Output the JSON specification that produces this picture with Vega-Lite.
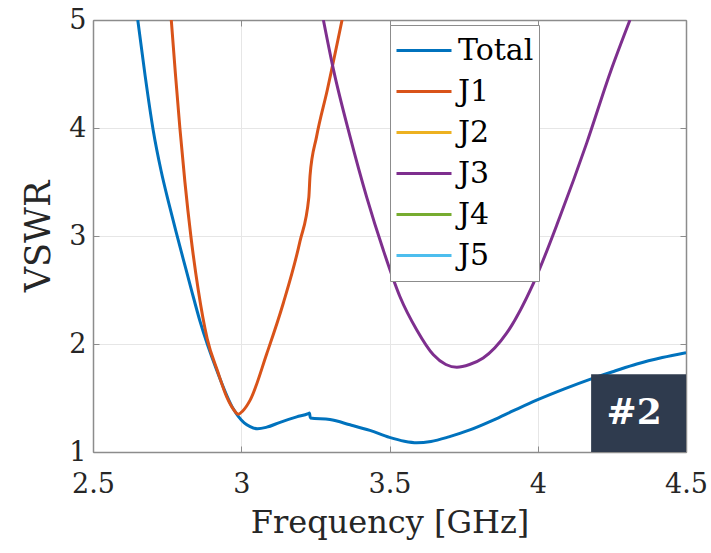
{
  "$schema": "https://vega.github.io/schema/vega-lite/v6.json",
  "autosize": {"type": "none"},
  "padding": {"left": 93, "top": 20, "right": 25, "bottom": 101},
  "width": 593,
  "height": 432,
  "background": "white",
  "config": {
    "view": {"stroke": null},
    "font": "DejaVu Serif",
    "axis": {
      "labelFont": "DejaVu Serif",
      "titleFont": "DejaVu Serif",
      "labelColor": "#262626",
      "titleColor": "#262626",
      "titleFontWeight": "normal",
      "domainColor": "#8c8c8c",
      "tickColor": "#8c8c8c",
      "gridColor": "#e6e6e6",
      "domainWidth": 1.5
    },
    "legend": {"labelFont": "DejaVu Serif"},
    "text": {"font": "DejaVu Serif"}
  },
  "datasets": {
    "curves": [
      {"f": 2.651, "v": 5.00, "s": "Total"},
      {"f": 2.676, "v": 4.48, "s": "Total"},
      {"f": 2.703, "v": 3.98, "s": "Total"},
      {"f": 2.730, "v": 3.60, "s": "Total"},
      {"f": 2.756, "v": 3.30, "s": "Total"},
      {"f": 2.780, "v": 3.04, "s": "Total"},
      {"f": 2.805, "v": 2.78, "s": "Total"},
      {"f": 2.833, "v": 2.49, "s": "Total"},
      {"f": 2.861, "v": 2.21, "s": "Total"},
      {"f": 2.917, "v": 1.76, "s": "Total"},
      {"f": 2.973, "v": 1.40, "s": "Total"},
      {"f": 2.990, "v": 1.33, "s": "Total"},
      {"f": 3.010, "v": 1.27, "s": "Total"},
      {"f": 3.030, "v": 1.235, "s": "Total"},
      {"f": 3.055, "v": 1.215, "s": "Total"},
      {"f": 3.086, "v": 1.230, "s": "Total"},
      {"f": 3.131, "v": 1.275, "s": "Total"},
      {"f": 3.187, "v": 1.325, "s": "Total"},
      {"f": 3.226, "v": 1.355, "s": "Total"},
      {"f": 3.230, "v": 1.360, "s": "Total"},
      {"f": 3.233, "v": 1.315, "s": "Total"},
      {"f": 3.299, "v": 1.300, "s": "Total"},
      {"f": 3.367, "v": 1.252, "s": "Total"},
      {"f": 3.434, "v": 1.200, "s": "Total"},
      {"f": 3.500, "v": 1.135, "s": "Total"},
      {"f": 3.550, "v": 1.100, "s": "Total"},
      {"f": 3.592, "v": 1.086, "s": "Total"},
      {"f": 3.640, "v": 1.098, "s": "Total"},
      {"f": 3.700, "v": 1.140, "s": "Total"},
      {"f": 3.771, "v": 1.204, "s": "Total"},
      {"f": 3.850, "v": 1.295, "s": "Total"},
      {"f": 3.920, "v": 1.385, "s": "Total"},
      {"f": 3.996, "v": 1.480, "s": "Total"},
      {"f": 4.090, "v": 1.585, "s": "Total"},
      {"f": 4.176, "v": 1.673, "s": "Total"},
      {"f": 4.260, "v": 1.750, "s": "Total"},
      {"f": 4.334, "v": 1.815, "s": "Total"},
      {"f": 4.420, "v": 1.875, "s": "Total"},
      {"f": 4.500, "v": 1.920, "s": "Total"},
      {"f": 2.764, "v": 5.00, "s": "J1"},
      {"f": 2.778, "v": 4.50, "s": "J1"},
      {"f": 2.793, "v": 4.00, "s": "J1"},
      {"f": 2.810, "v": 3.50, "s": "J1"},
      {"f": 2.830, "v": 3.00, "s": "J1"},
      {"f": 2.855, "v": 2.50, "s": "J1"},
      {"f": 2.885, "v": 2.05, "s": "J1"},
      {"f": 2.920, "v": 1.75, "s": "J1"},
      {"f": 2.951, "v": 1.51, "s": "J1"},
      {"f": 2.975, "v": 1.39, "s": "J1"},
      {"f": 2.990, "v": 1.35, "s": "J1"},
      {"f": 3.005, "v": 1.38, "s": "J1"},
      {"f": 3.030, "v": 1.48, "s": "J1"},
      {"f": 3.086, "v": 1.91, "s": "J1"},
      {"f": 3.142, "v": 2.38, "s": "J1"},
      {"f": 3.198, "v": 2.95, "s": "J1"},
      {"f": 3.228, "v": 3.36, "s": "J1"},
      {"f": 3.232, "v": 3.56, "s": "J1"},
      {"f": 3.254, "v": 3.92, "s": "J1"},
      {"f": 3.290, "v": 4.35, "s": "J1"},
      {"f": 3.340, "v": 5.00, "s": "J1"},
      {"f": 3.277, "v": 5.00, "s": "J3"},
      {"f": 3.311, "v": 4.54, "s": "J3"},
      {"f": 3.367, "v": 3.92, "s": "J3"},
      {"f": 3.423, "v": 3.36, "s": "J3"},
      {"f": 3.479, "v": 2.87, "s": "J3"},
      {"f": 3.535, "v": 2.44, "s": "J3"},
      {"f": 3.592, "v": 2.13, "s": "J3"},
      {"f": 3.648, "v": 1.90, "s": "J3"},
      {"f": 3.690, "v": 1.81, "s": "J3"},
      {"f": 3.727, "v": 1.785, "s": "J3"},
      {"f": 3.770, "v": 1.81, "s": "J3"},
      {"f": 3.816, "v": 1.87, "s": "J3"},
      {"f": 3.895, "v": 2.10, "s": "J3"},
      {"f": 3.985, "v": 2.56, "s": "J3"},
      {"f": 4.075, "v": 3.18, "s": "J3"},
      {"f": 4.165, "v": 3.86, "s": "J3"},
      {"f": 4.244, "v": 4.51, "s": "J3"},
      {"f": 4.311, "v": 5.00, "s": "J3"}
    ],
    "badge": [
      {"x1": 4.18, "x2": 4.5, "y1": 1.0, "y2": 1.72, "xc": 4.325, "yc": 1.36, "label": "#2"}
    ]
  },
  "resolve": {"axis": {"x": "independent", "y": "independent"}},
  "layer": [
    {
      "data": {"name": "curves"},
      "mark": {"type": "line", "strokeWidth": 3, "clip": true, "interpolate": "monotone"},
      "encoding": {
        "x": {
          "field": "f", "type": "quantitative",
          "scale": {"domain": [2.5, 4.5], "nice": false, "zero": false},
          "axis": {
            "orient": "bottom",
            "title": "Frequency [GHz]",
            "values": [2.5, 3, 3.5, 4, 4.5],
            "format": "~g",
            "labelFontSize": 27,
            "titleFontSize": 32,
            "labelPadding": 25,
            "titlePadding": 10,
            "tickSize": -6,
            "grid": true,
            "labelFlush": false
          }
        },
        "y": {
          "field": "v", "type": "quantitative",
          "scale": {"domain": [1, 5], "nice": false, "zero": false},
          "axis": {
            "orient": "left",
            "title": "VSWR",
            "values": [1, 2, 3, 4, 5],
            "labelFontSize": 27,
            "titleFontSize": 35,
            "labelPadding": 13,
            "titlePadding": 12,
            "tickSize": -6,
            "grid": true
          }
        },
        "color": {
          "field": "s", "type": "nominal",
          "scale": {
            "domain": ["Total", "J1", "J2", "J3", "J4", "J5"],
            "range": ["#0072BD", "#D95319", "#EDB120", "#7E2F8E", "#77AC30", "#4DBEEE"]
          },
          "legend": {
            "orient": "none",
            "legendX": 297,
            "legendY": 5,
            "title": null,
            "symbolType": "stroke",
            "symbolSize": 3025,
            "symbolStrokeWidth": 3,
            "labelFontSize": 30,
            "labelColor": "#000000",
            "labelOffset": 5,
            "labelLimit": 300,
            "padding": 5,
            "strokeColor": "#8c8c8c",
            "fillColor": "white",
            "clipHeight": 41,
            "rowPadding": 0
          }
        }
      }
    },
    {
      "data": {"name": "badge"},
      "mark": {"type": "rect", "fill": "#2f3b4e"},
      "encoding": {
        "x": {
          "field": "x1", "type": "quantitative",
          "scale": {"domain": [2.5, 4.5], "nice": false, "zero": false},
          "axis": {"orient": "top", "labels": false, "title": null, "grid": false, "values": [2.5, 3, 3.5, 4, 4.5], "tickSize": -6}
        },
        "x2": {"field": "x2"},
        "y": {
          "field": "y1", "type": "quantitative",
          "scale": {"domain": [1, 5], "nice": false, "zero": false},
          "axis": {"orient": "right", "labels": false, "title": null, "grid": false, "values": [1, 2, 3, 4, 5], "tickSize": -6}
        },
        "y2": {"field": "y2"}
      }
    },
    {
      "data": {"name": "badge"},
      "mark": {"type": "text", "fontWeight": "bold", "fontSize": 36, "color": "white", "align": "center", "baseline": "middle"},
      "encoding": {
        "x": {"field": "xc", "type": "quantitative", "scale": {"domain": [2.5, 4.5], "nice": false, "zero": false}, "axis": null},
        "y": {"field": "yc", "type": "quantitative", "scale": {"domain": [1, 5], "nice": false, "zero": false}, "axis": null},
        "text": {"field": "label"}
      }
    }
  ]
}
